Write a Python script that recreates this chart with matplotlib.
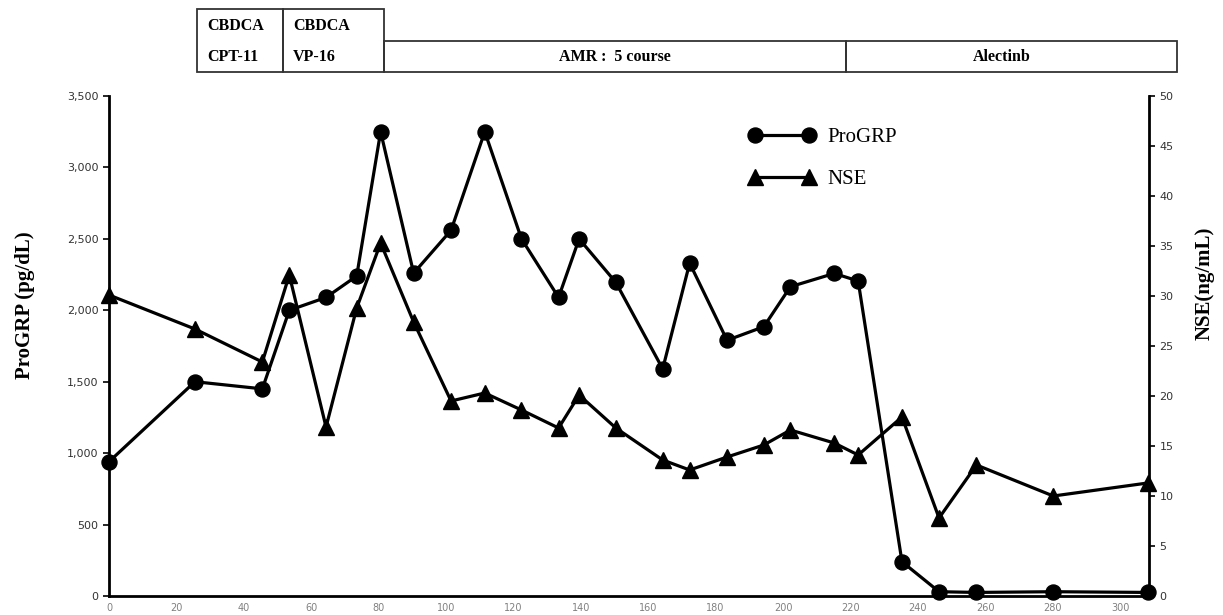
import matplotlib.pyplot as plt
from matplotlib.ticker import FuncFormatter, MultipleLocator

# day from start of treatment
days = [0, 25.5, 45.5, 53.5, 64.4, 73.5, 80.6, 90.4, 101.5, 111.5, 122.4, 133.4,
        139.5, 150.4, 164.3, 172.3, 183.4, 194.3, 202.2, 215.2, 222.3, 235.3,
        246.3, 257.4, 280.2, 308.2]
progrp = [940, 1500, 1450, 2000, 2090, 2240, 3250, 2260, 2560, 3250, 2500, 2090,
          2500, 2195, 1590, 2330, 1790, 1885, 2165, 2258, 2205, 240,
          30, 25, 30, 25]
nse = [30.1, 26.7, 23.4, 32.1, 16.9, 28.8, 35.3, 27.4, 19.5, 20.3, 18.6, 16.8,
       20.1, 16.8, 13.6, 12.6, 13.9, 15.1, 16.6, 15.3, 14.1, 17.9,
       7.8, 13.1, 10.0, 11.3]

W, H = 1223, 615

fig = plt.figure(figsize=(W / 100, H / 100), dpi=100)
ax = fig.add_axes([109 / W, 1 - 596 / H, (1149 - 109) / W, (596 - 96) / H])
ax2 = ax.twinx()

l1, = ax.plot(days, progrp, color="black", lw=2.3, marker="o", ms=10.8,
              label="ProGRP", clip_on=False, zorder=3)
l2, = ax2.plot(days, nse, color="black", lw=2.3, marker="^", ms=12,
               label="NSE", clip_on=False, zorder=3)

ax.set_xlim(0, 308.6)
ax.set_ylim(0, 3500)
ax2.set_ylim(0, 50)
ax.xaxis.set_major_locator(MultipleLocator(20))
ax.yaxis.set_major_locator(MultipleLocator(500))
ax2.yaxis.set_major_locator(MultipleLocator(5))
ax.yaxis.set_major_formatter(FuncFormatter(lambda v, p: f"{int(v):,}"))

for a in (ax, ax2):
    a.spines["top"].set_visible(False)
    for s in ("left", "right", "bottom"):
        a.spines[s].set_linewidth(2)
ax.spines["right"].set_visible(False)
ax2.spines["left"].set_visible(False)
ax2.spines["bottom"].set_visible(False)

ax.tick_params(axis="x", length=0, pad=5, labelsize=7, labelcolor="#808080")
ax.tick_params(axis="y", length=4, width=1.2, labelsize=8, labelcolor="#333333")
ax2.tick_params(axis="y", length=4, width=1.2, labelsize=8, labelcolor="#333333")

serif = "Liberation Serif"
fig.text(25 / W, 1 - 305 / H, "ProGRP (pg/dL)", rotation=90, ha="center", va="center",
         fontsize=15, fontweight="bold", family=serif)
fig.text(1205 / W, 1 - 283 / H, "NSE(ng/mL)", rotation=90, ha="center", va="center",
         fontsize=15, fontweight="bold", family=serif)

ax2.legend(handles=[l1, l2], loc="upper left", bbox_to_anchor=(738 / W, 1 - 117 / H),
           bbox_transform=fig.transFigure, frameon=False, numpoints=2,
           handlelength=3.2, handletextpad=0.6, labelspacing=1.1, borderpad=0,
           prop={"family": serif, "size": 15})

# treatment table above the chart
def px(x, y):
    return x / W, 1 - y / H

def box(x0, y0, x1, y1):
    r = plt.Rectangle(px(x0, y1), (x1 - x0) / W, (y1 - y0) / H, transform=fig.transFigure,
                      fill=False, edgecolor="#333333", lw=1.3)
    fig.add_artist(r)

box(197, 9, 283, 72)
box(283, 9, 384, 72)
box(384, 41, 846, 72)
box(846, 41, 1177, 72)

tkw = dict(fontsize=11.5, fontweight="bold", family=serif, va="center")
fig.text(*px(207, 26), "CBDCA", **tkw)
fig.text(*px(207, 57), "CPT-11", **tkw)
fig.text(*px(293, 26), "CBDCA", **tkw)
fig.text(*px(293, 57), "VP-16", **tkw)
fig.text(*px(615, 57), "AMR :  5 course", ha="center", **tkw)
fig.text(*px(1002, 57), "Alectinb", ha="center", **tkw)

fig.savefig("out.png", dpi=100)
